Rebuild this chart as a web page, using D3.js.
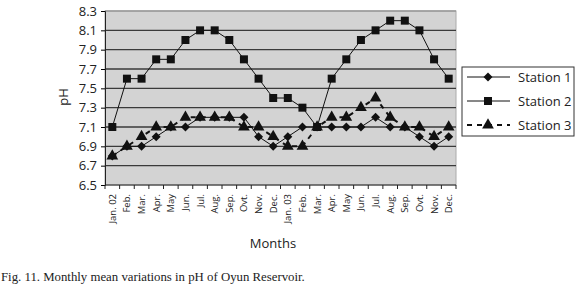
<!DOCTYPE html>
<html>
<head>
<style>
    body { margin: 0; background: #fff; }
    svg text { font-family: "Open Sans", "Noto Sans", sans-serif; fill: #222; }
    .caption { font-family: "Liberation Serif", "DejaVu Serif", serif !important; }
</style>
<script src="https://d3js.org/d3.v7.min.js"></script>
</head>
<body>
<svg width="580" height="287"></svg>
<script>
    var months = ["Jan. 02", "Feb.", "Mar.", "Apr.", "May", "Jun.", "Jul.", "Aug.", "Sep.", "Ovt.", "Nov.", "Dec.",
                  "Jan. 03", "Feb.", "Mar.", "Apr.", "May", "Jun.", "Jul.", "Aug.", "Sep.", "Ovt.", "Nov.", "Dec."];
    var station1 = [6.8, 6.9, 6.9, 7.0, 7.1, 7.1, 7.2, 7.2, 7.2, 7.2, 7.0, 6.9,
                    7.0, 7.1, 7.1, 7.1, 7.1, 7.1, 7.2, 7.1, 7.1, 7.0, 6.9, 7.0];
    var station2 = [7.1, 7.6, 7.6, 7.8, 7.8, 8.0, 8.1, 8.1, 8.0, 7.8, 7.6, 7.4,
                    7.4, 7.3, 7.1, 7.6, 7.8, 8.0, 8.1, 8.2, 8.2, 8.1, 7.8, 7.6];
    var station3 = [6.8, 6.9, 7.0, 7.1, 7.1, 7.2, 7.2, 7.2, 7.2, 7.1, 7.1, 7.0,
                    6.9, 6.9, 7.1, 7.2, 7.2, 7.3, 7.4, 7.2, 7.1, 7.1, 7.0, 7.1];
    var yTicks = [6.5, 6.7, 6.9, 7.1, 7.3, 7.5, 7.7, 7.9, 8.1, 8.3];

    var svg = d3.select("svg");
    var plotLeft = 105, plotRight = 456, plotTop = 11, plotBottom = 185;

    var x = d3.scaleBand().domain(d3.range(months.length)).range([plotLeft, plotRight]);
    var y = d3.scaleLinear().domain([6.5, 8.3]).range([plotBottom, plotTop]);

    // plot background
    svg.append("rect")
        .attr("x", plotLeft).attr("y", plotTop)
        .attr("width", plotRight - plotLeft).attr("height", plotBottom - plotTop)
        .attr("fill", "#d3d3d3")
        .attr("stroke", "#aaa");

    // grid lines
    svg.selectAll(".grid").data(yTicks.slice(1))
        .enter().append("line")
        .attr("x1", plotLeft).attr("x2", plotRight)
        .attr("y1", function (d) { return y(d); })
        .attr("y2", function (d) { return y(d); })
        .attr("stroke", function (d) { return d === 8.3 ? "#999" : "#3a3a3a"; })
        .attr("stroke-width", 1.3);

    // y axis
    var yAxis = svg.append("g")
        .attr("transform", "translate(" + plotLeft + ",0)")
        .call(d3.axisLeft(y).tickValues(yTicks).tickFormat(d3.format(".1f")).tickSize(4));
    yAxis.selectAll("text").attr("font-size", 13).attr("dx", -1);
    yAxis.select(".domain").attr("stroke", "#222");

    // x axis, ticks at category boundaries
    var xAxis = svg.append("g").attr("transform", "translate(0," + plotBottom + ")");
    xAxis.append("line").attr("x1", plotLeft).attr("x2", plotRight).attr("stroke", "#222");
    xAxis.selectAll(".tk").data(d3.range(months.length + 1))
        .enter().append("line")
        .attr("x1", function (i) { return plotLeft + i * x.step(); })
        .attr("x2", function (i) { return plotLeft + i * x.step(); })
        .attr("y1", 0).attr("y2", 4)
        .attr("stroke", "#222");
    xAxis.selectAll(".lbl").data(months)
        .enter().append("text")
        .attr("transform", function (d, i) {
            return "translate(" + (x(i) + x.bandwidth() / 2 + 3.5) + ",9) rotate(-90)";
        })
        .attr("text-anchor", "end")
        .attr("font-size", 9.5)
        .text(function (d) { return d; });

    // axis titles
    svg.append("text")
        .attr("transform", "translate(68,97) rotate(-90)")
        .attr("text-anchor", "middle")
        .attr("font-size", 13)
        .text("pH");
    svg.append("text")
        .attr("x", 273).attr("y", 248)
        .attr("text-anchor", "middle")
        .attr("font-size", 13)
        .text("Months");

    var cx = function (d, i) { return x(i) + x.bandwidth() / 2; };
    var line = d3.line().x(cx).y(function (d) { return y(d); });

    var series = [
        { name: "Station 1", values: station1, symbol: d3.symbolSquare, size: 40, rot: 45, dash: null, width: 1 },
        { name: "Station 2", values: station2, symbol: d3.symbolSquare, size: 64, rot: 0, dash: null, width: 1 },
        { name: "Station 3", values: station3, symbol: d3.symbolTriangle, size: 60, rot: 0, dash: "5,5", width: 2 }
    ];

    series.forEach(function (s) {
        svg.append("path")
            .datum(s.values)
            .attr("d", line)
            .attr("fill", "none")
            .attr("stroke", "#111")
            .attr("stroke-width", s.width)
            .attr("stroke-dasharray", s.dash);
        svg.selectAll(null).data(s.values)
            .enter().append("path")
            .attr("d", d3.symbol().type(s.symbol).size(s.size))
            .attr("transform", function (d, i) {
                return "translate(" + cx(d, i) + "," + y(d) + ") rotate(" + s.rot + ")";
            })
            .attr("fill", "#111");
    });

    // legend
    var legend = svg.append("g");
    legend.append("rect")
        .attr("x", 462).attr("y", 67).attr("width", 112).attr("height", 69)
        .attr("fill", "#fff").attr("stroke", "#333");
    series.forEach(function (s, k) {
        var ly = 77 + k * 24;
        legend.append("line")
            .attr("x1", 467).attr("x2", 510).attr("y1", ly).attr("y2", ly)
            .attr("stroke", "#111").attr("stroke-width", s.width)
            .attr("stroke-dasharray", s.dash);
        legend.append("path")
            .attr("d", d3.symbol().type(s.symbol).size(s.size))
            .attr("transform", "translate(488," + ly + ") rotate(" + s.rot + ")")
            .attr("fill", "#111");
        legend.append("text")
            .attr("x", 518).attr("y", ly + 4.5)
            .attr("font-size", 13)
            .text(s.name);
    });

    // caption
    svg.append("text")
        .attr("class", "caption")
        .attr("x", 1).attr("y", 281)
        .attr("font-size", 12.8)
        .text("Fig. 11. Monthly mean variations in pH of Oyun Reservoir.");
</script>
</body>
</html>
